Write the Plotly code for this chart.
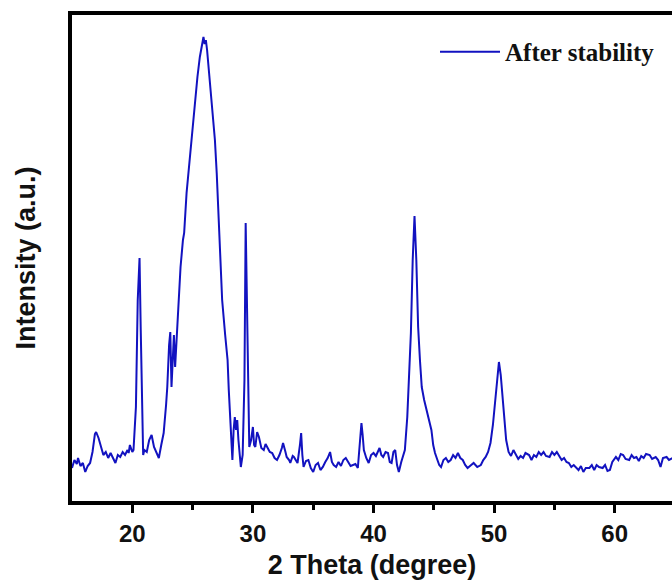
import plotly.graph_objects as go

# XRD pattern (2θ in degrees, intensity in arbitrary units)
two_theta = [
    15.0, 15.2, 15.4, 15.5, 15.7, 15.9, 16.1, 16.3, 16.5, 16.7,
    16.9, 17.0, 17.2, 17.4, 17.6, 17.8, 18.0, 18.2, 18.4, 18.6,
    18.8, 19.0, 19.2, 19.4, 19.6, 19.7, 19.8, 20.0, 20.1, 20.3,
    20.45, 20.6, 20.7, 20.8, 20.9, 21.0, 21.2, 21.4, 21.6, 21.8,
    22.0, 22.2, 22.4, 22.6, 22.8, 22.9, 23.05, 23.15, 23.25, 23.35,
    23.45, 23.55, 23.7, 23.85, 24.0, 24.2, 24.3, 24.5, 24.75, 25.0,
    25.2, 25.4, 25.6, 25.75, 25.9, 26.0, 26.1, 26.2, 26.35, 26.5,
    26.7, 26.85, 27.0, 27.15, 27.3, 27.45, 27.7, 27.9, 28.0, 28.1,
    28.2, 28.3, 28.4, 28.5, 28.6, 28.7, 28.8, 28.9, 29.0, 29.15,
    29.3, 29.4, 29.5, 29.6, 29.7, 29.85, 30.0, 30.1, 30.2, 30.35,
    30.5, 30.7, 30.9, 31.05, 31.2, 31.4, 31.6, 31.8, 32.0, 32.2,
    32.4, 32.5, 32.7, 32.8, 33.0, 33.1, 33.3, 33.4, 33.6, 33.7,
    33.9, 34.0, 34.1, 34.2, 34.4, 34.6, 34.8, 35.0, 35.2, 35.4,
    35.6, 35.8, 36.0, 36.2, 36.4, 36.55, 36.7, 36.9, 37.1, 37.3,
    37.5, 37.7, 37.9, 38.1, 38.3, 38.5, 38.7, 38.85, 39.0, 39.1,
    39.2, 39.4, 39.6, 39.8, 40.0, 40.2, 40.4, 40.5, 40.65, 40.8,
    41.0, 41.2, 41.35, 41.5, 41.65, 41.8, 41.95, 42.1, 42.3, 42.45,
    42.6, 42.8, 42.95, 43.1, 43.25, 43.4, 43.55, 43.7, 43.85, 44.0,
    44.2, 44.4, 44.6, 44.8, 44.95, 45.1, 45.3, 45.45, 45.6, 45.8,
    46.0, 46.2, 46.4, 46.6, 46.8, 47.0, 47.2, 47.4, 47.6, 47.8,
    48.0, 48.3, 48.6, 48.9, 49.1, 49.3, 49.5, 49.7, 49.9, 50.1,
    50.25, 50.4, 50.55, 50.7, 50.85, 51.0, 51.2, 51.4, 51.6, 51.8,
    52.0, 52.2, 52.4, 52.6, 52.9, 53.1, 53.3, 53.5, 53.7, 53.9,
    54.1, 54.3, 54.6, 54.8, 55.0, 55.2, 55.4, 55.6, 55.8, 56.0,
    56.2, 56.4, 56.6, 56.8, 57.0, 57.2, 57.4, 57.6, 57.9, 58.1,
    58.3, 58.5, 58.7, 59.0, 59.2, 59.4, 59.6, 59.8, 60.1, 60.3,
    60.5, 60.7, 60.9, 61.2, 61.4, 61.6, 61.8, 62.0, 62.2, 62.4,
    62.6, 62.9, 63.1, 63.4, 63.6, 63.8, 64.0, 64.3, 64.5, 64.8,
]

intensity = [
    33, 41, 37, 43, 35, 38, 29, 35, 38, 49,
    67, 69, 63, 55, 46, 49, 43, 48, 42, 38,
    46, 44, 49, 46, 51, 48, 56, 49, 51, 94,
    201, 243, 171, 84, 46, 51, 49, 61, 66, 54,
    49, 43, 56, 68, 96, 114, 156, 169, 114, 141,
    166, 134, 171, 201, 234, 261, 268, 308, 341, 368,
    396, 424, 444, 453, 464, 457, 461, 451, 431, 414,
    388, 361, 328, 281, 234, 201, 166, 141, 111, 84,
    61, 41, 71, 84, 71, 81, 61, 43, 34, 46,
    121, 278, 201, 101, 54, 61, 74, 56, 54, 69,
    64, 53, 51, 57, 53, 49, 48, 43, 41, 46,
    53, 58, 49, 44, 41, 38, 45, 44, 40, 38,
    56, 68, 46, 34, 40, 41, 33, 29, 36, 38,
    31, 34, 39, 43, 49, 39, 36, 34, 39, 35,
    41, 43, 39, 35, 36, 37, 33, 61, 78, 66,
    51, 43, 38, 46, 48, 45, 51, 53, 46, 44,
    49, 48, 39, 38, 49, 51, 36, 29, 39, 46,
    51, 84, 121, 168, 241, 285, 241, 174, 141, 114,
    101, 91, 79, 71, 56, 48, 41, 36, 34, 41,
    43, 39, 41, 46, 43, 48, 43, 41, 36, 33,
    35, 38, 34, 36, 41, 44, 49, 58, 76, 101,
    126, 139, 126, 101, 76, 61, 49, 45, 51, 46,
    42, 45, 43, 48, 46, 41, 46, 44, 49, 46,
    49, 45, 44, 49, 46, 49, 45, 41, 43, 39,
    38, 34, 36, 33, 31, 35, 29, 33, 33, 36,
    31, 36, 34, 33, 36, 30, 31, 39, 44, 41,
    47, 46, 42, 41, 46, 43, 44, 40, 45, 43,
    47, 46, 42, 44, 41, 34, 43, 44, 41, 43,
]

series_name = "After stability"
x_ticks = [20, 30, 40, 50, 60]
x_minor_ticks = [25, 35, 45, 55]
x_title = "2 Theta (degree)"
y_title = "Intensity (a.u.)"

assert len(two_theta) == len(intensity)

fig = go.Figure()
fig.add_trace(go.Scatter(
    x=two_theta, y=intensity, mode="lines", name=series_name,
    line=dict(color="#1212c0", width=2),
    showlegend=True,
))

axis_font = dict(family="Liberation Sans, Arial, sans-serif", size=24, color="#111111", weight="bold")
title_font = dict(family="Liberation Sans, Arial, sans-serif", size=27, color="#111111", weight="bold")

fig.update_layout(
    width=672, height=586,
    margin=dict(l=72, r=0, t=15, b=85),
    paper_bgcolor="white", plot_bgcolor="white",
    showlegend=True,
    legend=dict(
        x=0.605, y=0.924, xanchor="left", yanchor="middle",
        font=dict(family="Liberation Serif, Times New Roman, serif", size=25, color="#111111", weight="bold"),
        bgcolor="rgba(0,0,0,0)", borderwidth=0, itemwidth=60,
    ),
    xaxis=dict(
        range=[15, 64.75], tickvals=x_ticks, ticks="outside", ticklen=8, tickwidth=3,
        tickcolor="black", showline=True, linewidth=4, linecolor="black", mirror=True,
        showgrid=False, zeroline=False, tickfont=axis_font,
        minor=dict(tickvals=x_minor_ticks, ticks="outside", ticklen=5, tickwidth=3, tickcolor="black"),
        title=dict(text=x_title, font=title_font, standoff=10),
    ),
    yaxis=dict(
        range=[0, 486], showticklabels=False, ticks="", showline=True, linewidth=4,
        linecolor="black", mirror=False, showgrid=False, zeroline=False,
        title=dict(text=y_title, font=title_font, standoff=26),
    ),
)

fig.write_html(
    "out.html",
    config={"displayModeBar": False},
    post_script="document.body.style.margin='0';document.body.style.overflow='hidden';",
)
